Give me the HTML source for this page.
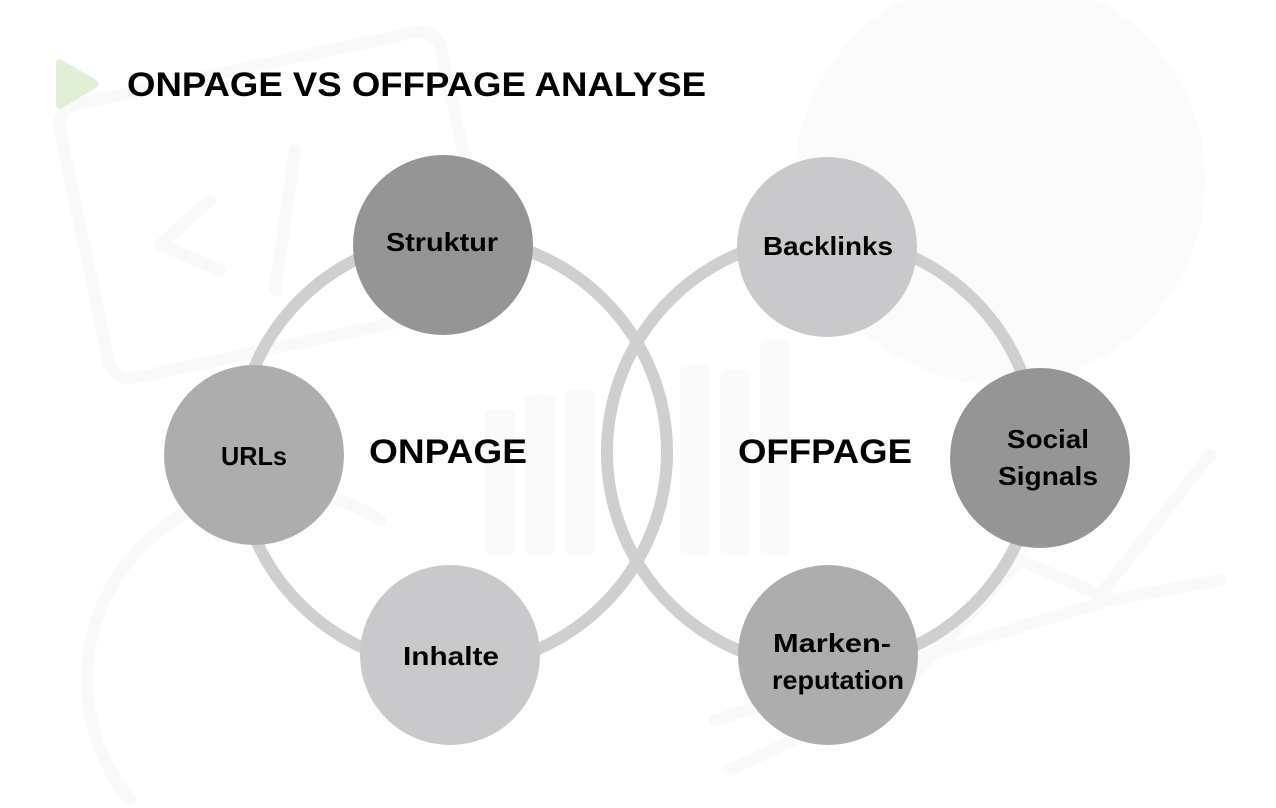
<!DOCTYPE html>
<html><head><meta charset="utf-8"><style>
html,body{margin:0;padding:0;background:#fff;}
svg{display:block;}
text{font-family:"Liberation Sans",sans-serif;font-weight:bold;fill:#000;}
</style></head><body>
<svg width="1276" height="808" viewBox="0 0 1276 808" xmlns="http://www.w3.org/2000/svg">
<g fill="none" stroke="#f9f9f9" stroke-width="12" stroke-linecap="round" stroke-linejoin="round">
<rect x="80" y="65" width="390" height="280" rx="22" transform="rotate(-12 275 205)"/>
<polyline points="210,200 160,245 220,270"/>
<line x1="295" y1="150" x2="275" y2="290"/>
<path d="M130,800 A190,190 0 0 1 380,520"/>
<polyline points="715,720 1010,630 1110,600 1220,580"/>
<polyline points="730,770 900,690 1020,560 1100,595 1210,455"/>
</g>
<circle cx="1000" cy="180" r="205" fill="#fbfbfb"/>
<g fill="#fafafa">
<rect x="485" y="410" width="30" height="145" rx="6"/>
<rect x="525" y="395" width="30" height="160" rx="6"/>
<rect x="565" y="390" width="30" height="165" rx="6"/>
<rect x="680" y="365" width="30" height="190" rx="6"/>
<rect x="720" y="370" width="30" height="185" rx="6"/>
<rect x="760" y="340" width="30" height="215" rx="6"/>
</g>
<path d="M62,60 L96,80 Q102,84 96,88 L62,108 Q56,111 56,104 L56,64 Q56,57 62,60 Z" fill="#e1efd9"/>
<text x="127" y="96" font-size="34" textLength="579" lengthAdjust="spacingAndGlyphs">ONPAGE VS OFFPAGE ANALYSE</text>
<circle cx="452" cy="452" r="215" fill="none" stroke="#cfcfd2" stroke-width="12"/>
<circle cx="822" cy="452" r="215" fill="none" stroke="#cfcfd2" stroke-width="12"/>
<circle cx="443" cy="245" r="90" fill="#959595"/>
<circle cx="254" cy="455" r="90" fill="#adadad"/>
<circle cx="450" cy="655" r="90" fill="#c9c9cc"/>
<circle cx="827" cy="247" r="90" fill="#c9c9cc"/>
<circle cx="1040" cy="458" r="90" fill="#959595"/>
<circle cx="828" cy="655" r="90" fill="#adadad"/>
<g font-size="26" text-anchor="middle">
<text x="442" y="251" textLength="112" lengthAdjust="spacingAndGlyphs">Struktur</text>
<text x="254" y="465" textLength="66" lengthAdjust="spacingAndGlyphs">URLs</text>
<text x="451" y="665" textLength="96" lengthAdjust="spacingAndGlyphs">Inhalte</text>
<text x="828" y="255" textLength="130" lengthAdjust="spacingAndGlyphs">Backlinks</text>
<text x="1048" y="448" textLength="82" lengthAdjust="spacingAndGlyphs">Social</text>
<text x="1048" y="485" textLength="100" lengthAdjust="spacingAndGlyphs">Signals</text>
<text x="832" y="652" textLength="118" lengthAdjust="spacingAndGlyphs">Marken-</text>
<text x="838" y="689" textLength="132" lengthAdjust="spacingAndGlyphs">reputation</text>
</g>
<g font-size="34" text-anchor="middle">
<text x="448" y="463" textLength="158" lengthAdjust="spacingAndGlyphs">ONPAGE</text>
<text x="825" y="463" textLength="174" lengthAdjust="spacingAndGlyphs">OFFPAGE</text>
</g>
</svg>
</body></html>
